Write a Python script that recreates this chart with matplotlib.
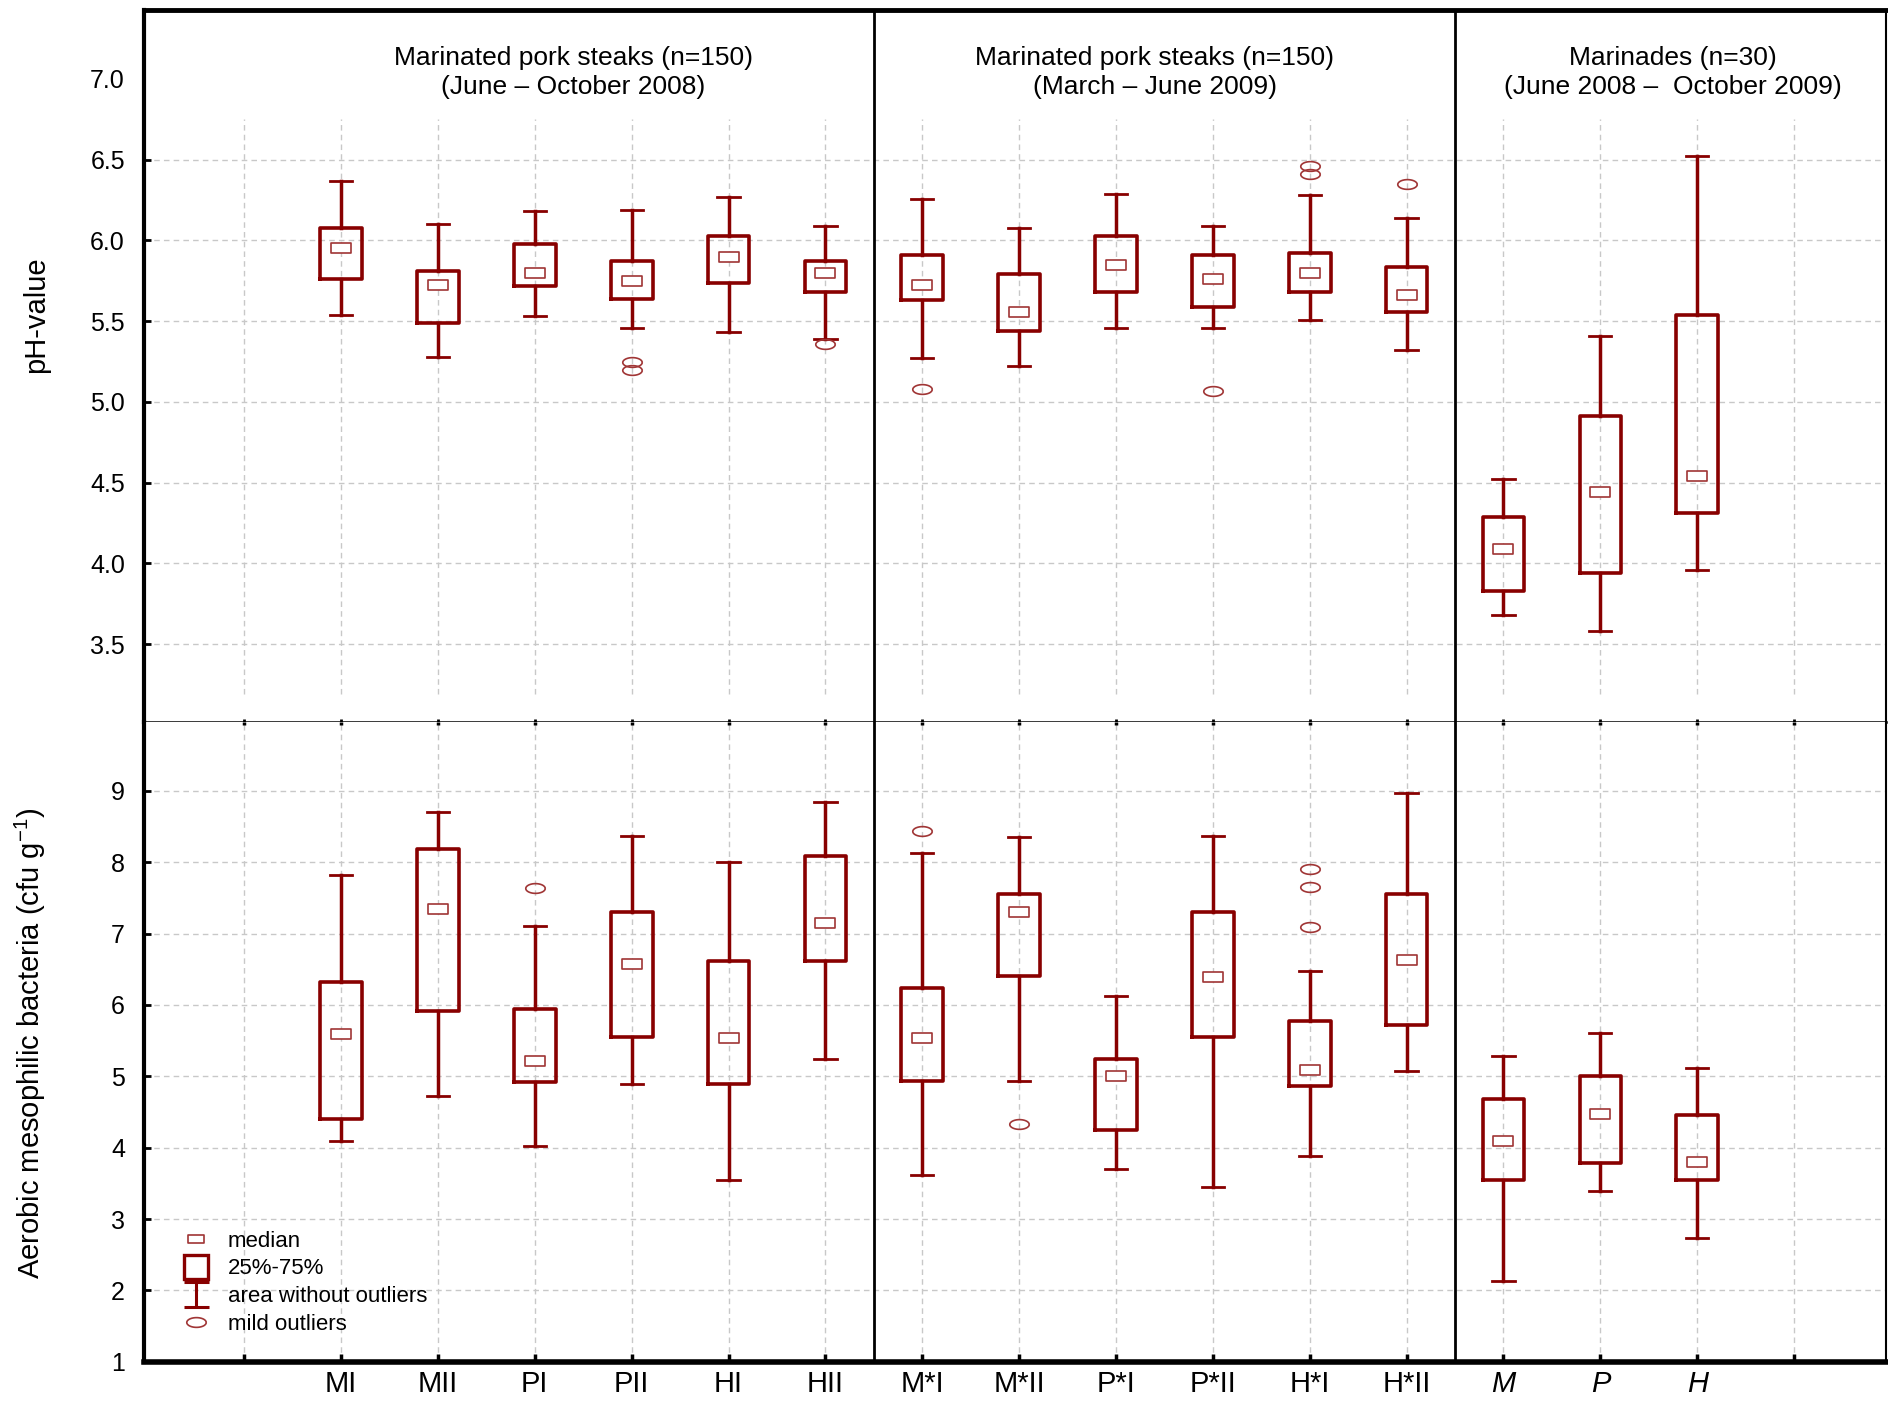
import numpy as np
import matplotlib.pyplot as plt
from matplotlib.path import Path
from matplotlib.lines import Line2D

plt.rcParams['font.family'] = 'Liberation Sans'
plt.rcParams['mathtext.default'] = 'regular'

# categories (x positions 1..15, empty slots at 0 and 16)
labels = ['MI', 'MII', 'PI', 'PII', 'HI', 'HII',
          'M*I', 'M*II', 'P*I', 'P*II', 'H*I', 'H*II',
          'M', 'P', 'H']

# pH-value (top panel)
ph_lo = [5.54, 5.28, 5.53, 5.46, 5.43, 5.39, 5.27, 5.22, 5.46, 5.46, 5.51, 5.32, 3.68, 3.58, 3.96]
ph_q1 = [5.76, 5.49, 5.72, 5.64, 5.735, 5.68, 5.63, 5.44, 5.68, 5.59, 5.68, 5.555, 3.83, 3.94, 4.31]
ph_med = [5.955, 5.725, 5.80, 5.75, 5.90, 5.80, 5.725, 5.56, 5.85, 5.76, 5.80, 5.66, 4.09, 4.44, 4.54]
ph_q3 = [6.08, 5.81, 5.975, 5.87, 6.025, 5.87, 5.91, 5.795, 6.025, 5.91, 5.925, 5.835, 4.29, 4.91, 5.54]
ph_hi = [6.37, 6.10, 6.18, 6.19, 6.27, 6.09, 6.257, 6.08, 6.29, 6.09, 6.28, 6.14, 4.52, 5.41, 6.52]
ph_out = [[], [], [], [5.25, 5.20], [], [5.36], [5.08], [], [], [5.07], [6.46, 6.41], [6.35], [], [], []]

# aerobic mesophilic bacteria (bottom panel)
amb_lo = [4.10, 4.73, 4.02, 4.89, 3.55, 5.24, 3.62, 4.94, 3.70, 3.45, 3.88, 5.08, 2.13, 3.39, 2.73]
amb_q1 = [4.40, 5.92, 4.92, 5.55, 4.89, 6.62, 4.94, 6.41, 4.25, 5.55, 4.86, 5.72, 3.55, 3.79, 3.55]
amb_med = [5.60, 7.34, 5.21, 6.58, 5.54, 7.15, 5.54, 7.30, 5.01, 6.39, 5.09, 6.63, 4.09, 4.47, 3.80]
amb_q3 = [6.32, 8.19, 5.95, 7.30, 6.62, 8.09, 6.24, 7.56, 5.245, 7.30, 5.77, 7.56, 4.68, 5.00, 4.46]
amb_hi = [7.82, 8.70, 7.11, 8.37, 8.00, 8.84, 8.13, 8.35, 6.13, 8.37, 6.47, 8.97, 5.28, 5.61, 5.11]
amb_out = [[], [], [7.64], [], [], [], [8.44], [4.33], [], [], [7.90, 7.65, 7.09], [], [], [], []]

group_titles = ['Marinated pork steaks (n=150)\n(June \u2013 October 2008)',
                'Marinated pork steaks (n=150)\n(March \u2013 June 2009)',
                'Marinades (n=30)\n(June 2008 \u2013  October 2009)']
title_x = [3.4, 9.4, 14.75]

red = '#880000'
red_light = '#a03535'
grid_col = '#c8c8c8'
pos = np.arange(1, len(labels) + 1)

# markers: small rectangle for medians, flat ellipse for outliers, I-beam for legend
rect_marker = Path([(-1.9, -1), (1.9, -1), (1.9, 1), (-1.9, 1), (-1.9, -1)],
                   [Path.MOVETO, Path.LINETO, Path.LINETO, Path.LINETO, Path.CLOSEPOLY])
t = np.linspace(0, 2 * np.pi, 60)
ellipse_marker = Path(np.column_stack([2 * np.cos(t), np.sin(t)]))
ibeam_marker = Path([(-1, 1), (1, 1), (0, 1), (0, -1), (-1, -1), (1, -1)],
                    [Path.MOVETO, Path.LINETO, Path.MOVETO, Path.LINETO, Path.MOVETO, Path.LINETO])


def draw_boxes(ax, lo, q1, med, q3, hi, out):
    stats = [dict(whislo=a, q1=b, med=c, q3=d, whishi=e, fliers=f)
             for a, b, c, d, e, f in zip(lo, q1, med, q3, hi, out)]
    ax.bxp(stats, positions=pos, widths=0.43, capwidths=0.23, showfliers=True,
           boxprops=dict(color=red, lw=2.6),
           whiskerprops=dict(color=red, lw=2.5),
           capprops=dict(color=red, lw=2.0),
           medianprops=dict(linestyle='none'),
           flierprops=dict(marker=ellipse_marker, ms=14, mfc='none', mec=red_light,
                           mew=1.2, ls='none'),
           manage_ticks=False, zorder=3)
    ax.plot(pos, med, ls='none', marker=rect_marker, ms=14, mfc='white',
            mec=red_light, mew=1.2, zorder=4)


fig = plt.figure(figsize=(18.88, 14.05), dpi=100)
ax1 = fig.add_axes([0.0765, 0.4858, 0.9225, 0.5074])
ax2 = fig.add_axes([0.0765, 0.0308, 0.9225, 0.455], sharex=ax1)

grid_ls = (0, (4, 3))

# ---- top panel: pH
draw_boxes(ax1, ph_lo, ph_q1, ph_med, ph_q3, ph_hi, ph_out)
ax1.set_ylim(3.015, 7.43)
ax1.set_yticks(np.arange(3.5, 7.01, 0.5))
ax1.set_yticklabels(['%.1f' % v for v in np.arange(3.5, 7.01, 0.5)])
ax1.grid(axis='y', color=grid_col, ls=grid_ls, lw=1)
ax1.yaxis.get_gridlines()[-1].set_visible(False)
ax1.yaxis.get_major_ticks()[-1].tick1line.set_visible(False)
ax1.vlines(np.arange(0, 17), 3.19, 6.75, colors=grid_col, linestyles=grid_ls, lw=1, zorder=1)
for x, s in zip(title_x, group_titles):
    ax1.text(x, 7.04, s, ha='center', va='center', fontsize=19, linespacing=1.3)

# ---- bottom panel: aerobic mesophilic bacteria
draw_boxes(ax2, amb_lo, amb_q1, amb_med, amb_q3, amb_hi, amb_out)
ax2.set_ylim(1, 9.96)
ax2.set_yticks(np.arange(1, 10))
ax2.grid(axis='both', color=grid_col, ls=grid_ls, lw=1)

ax2.set_xlim(-1.03, 16.95)
ax2.set_xticks(np.arange(0, 17))
ax2.set_xticklabels([''] + labels + [''])
for lab in ax2.get_xticklabels()[13:16]:
    lab.set_fontstyle('italic')

for ax in (ax1, ax2):
    for xd in (6.5, 12.5):
        ax.axvline(xd, color='black', lw=2, zorder=5)
    ax.tick_params(axis='y', direction='in', length=5, width=2, pad=14, labelsize=18)
    ax.tick_params(axis='x', direction='in', length=6, width=2.5, labelsize=21, pad=6)
    ax.spines['left'].set_linewidth(3)
    ax.spines['right'].set_linewidth(1.5)

ax1.tick_params(axis='x', labelbottom=False, length=2, width=2)
ax1.spines['top'].set_linewidth(3.5)
ax1.spines['bottom'].set_linewidth(1.8)
ax2.spines['top'].set_visible(False)
ax2.spines['bottom'].set_linewidth(4)
ax2.tick_params(axis='x', top=True)
for tk in ax2.xaxis.get_major_ticks():
    tk.tick2line.set_markersize(2)

fig.text(36 / 1888, 1 - 315 / 1405, 'pH-value', rotation=90, ha='center', va='center', fontsize=21)
fig.text(30 / 1888, 1 - 1043 / 1405, 'Aerobic mesophilic bacteria (cfu g$^{-1}$)',
         rotation=90, ha='center', va='center', fontsize=21)

# legend
handles = [
    Line2D([], [], ls='none', marker=rect_marker, ms=12, mfc='none', mec=red_light, mew=1.2),
    Line2D([], [], ls='none', marker='s', ms=17, mfc='none', mec=red, mew=2.4),
    Line2D([], [], ls='none', marker=ibeam_marker, ms=18, mfc='none', mec=red, mew=2.2),
    Line2D([], [], ls='none', marker=ellipse_marker, ms=14, mfc='none', mec=red_light, mew=1.2),
]
ax2.legend(handles, ['median', '25%-75%', 'area without outliers', 'mild outliers'],
           loc='lower left', bbox_to_anchor=(0.012, 0.025), frameon=False,
           fontsize=16, labelspacing=0.3, handlelength=1.8, handletextpad=0.5,
           borderpad=0)

fig.savefig('out.png', dpi=100)
